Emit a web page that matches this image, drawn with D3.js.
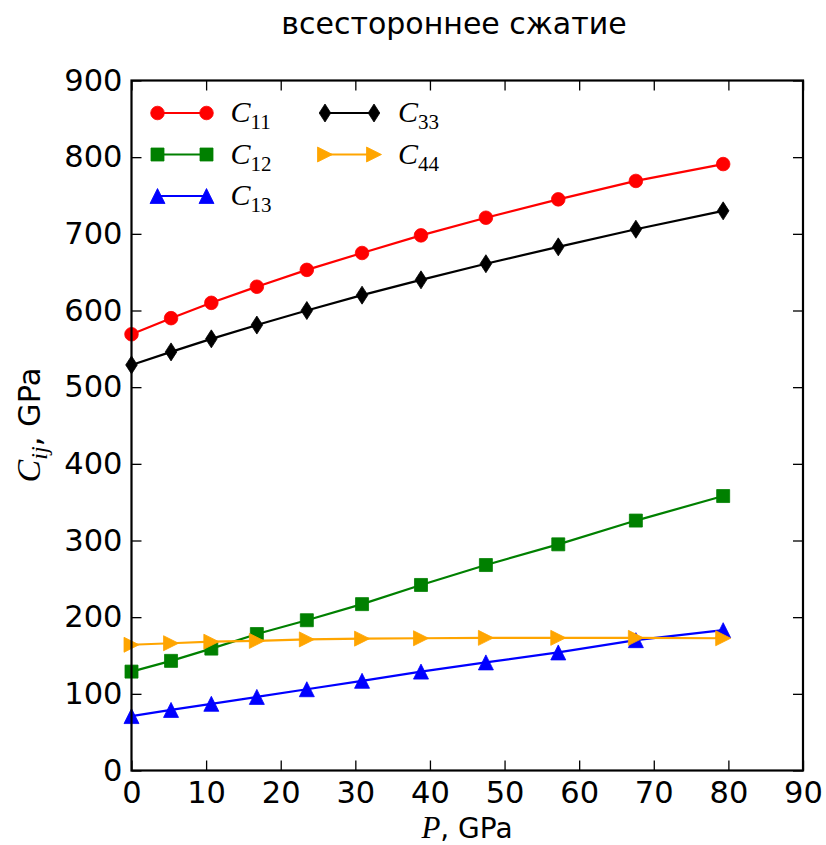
<!DOCTYPE html>
<html>
<head>
<meta charset="utf-8">
<script src="https://cdn.jsdelivr.net/npm/d3@7"></script>
<style>
  html, body { margin: 0; padding: 0; background: #fff; }
  svg { display: block; }
  .tick text { font-family: "DejaVu Sans", sans-serif; }
</style>
</head>
<body>
<svg id="chart" width="826" height="845"></svg>
<script>
// Pressure points, GPa
const pressure = [0, 5.3, 10.7, 16.8, 23.5, 30.9, 38.8, 47.5, 57.2, 67.6, 79.3];

// Elastic constants, GPa
const c11 = [569, 590, 610, 631, 653, 675, 698, 721, 745, 769, 791];
const c12 = [129, 143, 159, 178, 196, 217, 242, 268, 295, 326, 358];
const c13 = [71, 79, 87, 96, 106, 117, 129, 141, 154, 170, 183];
const c33 = [529, 546, 563, 581, 600, 620, 640, 661, 683, 706, 730];
const c44 = [164, 166, 168, 169, 171, 172, 172.5, 173, 173, 173, 172.5];

const xTicks = [0, 10, 20, 30, 40, 50, 60, 70, 80, 90];
const yTicks = [0, 100, 200, 300, 400, 500, 600, 700, 800, 900];

const titleText = "всестороннее сжатие";

const series = [
  { sub: "11", values: c11, color: "#ff0000", marker: "circle" },
  { sub: "12", values: c12, color: "#008000", marker: "square" },
  { sub: "13", values: c13, color: "#0000ff", marker: "triUp" },
  { sub: "33", values: c33, color: "#000000", marker: "diamond" },
  { sub: "44", values: c44, color: "#ffa500", marker: "triRight" }
];

const svg = d3.select("#chart");
const plotLeft = 131.5, plotRight = 803, plotTop = 80.5, plotBottom = 770.5;

const x = d3.scaleLinear().domain([0, 90]).range([plotLeft, plotRight]);
const y = d3.scaleLinear().domain([0, 900]).range([plotBottom, plotTop]);

// Marker shapes
function markerPath(kind) {
  switch (kind) {
    case "circle": return d3.symbol().type(d3.symbolCircle).size(Math.PI * 6.8 * 6.8)();
    case "square": return "M-6.5,-6.5H6.5V6.5H-6.5Z";
    case "triUp": return "M0,-7.5L7.5,7.5L-7.5,7.5Z";
    case "triRight": return "M7.5,0L-7.5,7.5L-7.5,-7.5Z";
    case "diamond": return "M0,-9L5.8,0L0,9L-5.8,0Z";
  }
}

// Data lines and markers
const line = d3.line().x((d, i) => x(pressure[i])).y(d => y(d));
const plot = svg.append("g");
series.forEach(s => {
  plot.append("path")
    .attr("d", line(s.values))
    .attr("fill", "none")
    .attr("stroke", s.color)
    .attr("stroke-width", 2.2);
  plot.selectAll(null)
    .data(s.values)
    .enter().append("path")
    .attr("d", markerPath(s.marker))
    .attr("transform", (d, i) => `translate(${x(pressure[i])},${y(d)})`)
    .attr("fill", s.color)
    .attr("stroke", s.color)
    .attr("stroke-width", 0.8);
});

// Axes with inward ticks on all four sides
const tickLen = 10;
const axB = svg.append("g").attr("transform", `translate(0,${plotBottom})`)
  .call(d3.axisBottom(x).tickValues(xTicks).tickSizeInner(-tickLen).tickSizeOuter(0).tickPadding(11));
const axT = svg.append("g").attr("transform", `translate(0,${plotTop})`)
  .call(d3.axisTop(x).tickValues(xTicks).tickSizeInner(-tickLen).tickSizeOuter(0).tickFormat(""));
const axL = svg.append("g").attr("transform", `translate(${plotLeft},0)`)
  .call(d3.axisLeft(y).tickValues(yTicks).tickSizeInner(-tickLen).tickSizeOuter(0).tickPadding(9));
const axR = svg.append("g").attr("transform", `translate(${plotRight},0)`)
  .call(d3.axisRight(y).tickValues(yTicks).tickSizeInner(-tickLen).tickSizeOuter(0).tickFormat(""));

[axB, axT, axL, axR].forEach(a => {
  a.select(".domain").remove();
  a.selectAll(".tick line").attr("stroke", "#000").attr("stroke-width", 1.3);
  a.selectAll(".tick text").attr("font-size", 30.5).attr("fill", "#000");
});

// Frame
svg.append("rect")
  .attr("x", plotLeft).attr("y", plotTop)
  .attr("width", plotRight - plotLeft).attr("height", plotBottom - plotTop)
  .attr("fill", "none").attr("stroke", "#000").attr("stroke-width", 2.2);

// Title
svg.append("text")
  .attr("x", 454).attr("y", 34)
  .attr("text-anchor", "middle")
  .attr("font-family", "DejaVu Sans, sans-serif")
  .attr("font-size", 30)
  .text(titleText);

// x label: P, GPa
const xl = svg.append("text")
  .attr("x", 467).attr("y", 838)
  .attr("text-anchor", "middle")
  .attr("font-size", 28);
xl.append("tspan").attr("font-family", "Liberation Serif, serif").attr("font-style", "italic").attr("font-size", 31).text("P");
xl.append("tspan").attr("font-family", "DejaVu Sans, sans-serif").text(", GPa");

// y label: C_ij, GPa
const yl = svg.append("text")
  .attr("transform", `translate(40,425) rotate(-90)`)
  .attr("text-anchor", "middle")
  .attr("font-size", 30.5);
yl.append("tspan").attr("font-family", "Liberation Serif, serif").attr("font-style", "italic").attr("font-size", 34).text("C");
yl.append("tspan").attr("font-family", "Liberation Serif, serif").attr("font-style", "italic").attr("font-size", 24).attr("dy", 7).text("ij");
yl.append("tspan").attr("font-family", "DejaVu Sans, sans-serif").attr("dy", -7).text(", GPa");

// Legend
const legendPos = [
  { lx: 157.5, ly: 113 }, { lx: 157.5, ly: 154.5 }, { lx: 157.5, ly: 196 },
  { lx: 325, ly: 113 }, { lx: 325, ly: 154.5 }
];
const lineLen = 49;
series.forEach((s, k) => {
  const p = legendPos[k];
  const g = svg.append("g").attr("transform", `translate(${p.lx},${p.ly})`);
  g.append("line").attr("x1", 0).attr("x2", lineLen).attr("y1", 0).attr("y2", 0)
    .attr("stroke", s.color).attr("stroke-width", 2.2);
  [0, lineLen].forEach(mx => {
    g.append("path").attr("d", markerPath(s.marker))
      .attr("transform", `translate(${mx},0)`)
      .attr("fill", s.color).attr("stroke", s.color).attr("stroke-width", 0.8);
  });
  const t = g.append("text").attr("x", lineLen + 24).attr("y", 9)
    .attr("font-family", "Liberation Serif, serif");
  t.append("tspan").attr("font-style", "italic").attr("font-size", 30).text("C");
  t.append("tspan").attr("font-size", 21).attr("dy", 7).text(s.sub);
});
</script>
</body>
</html>
